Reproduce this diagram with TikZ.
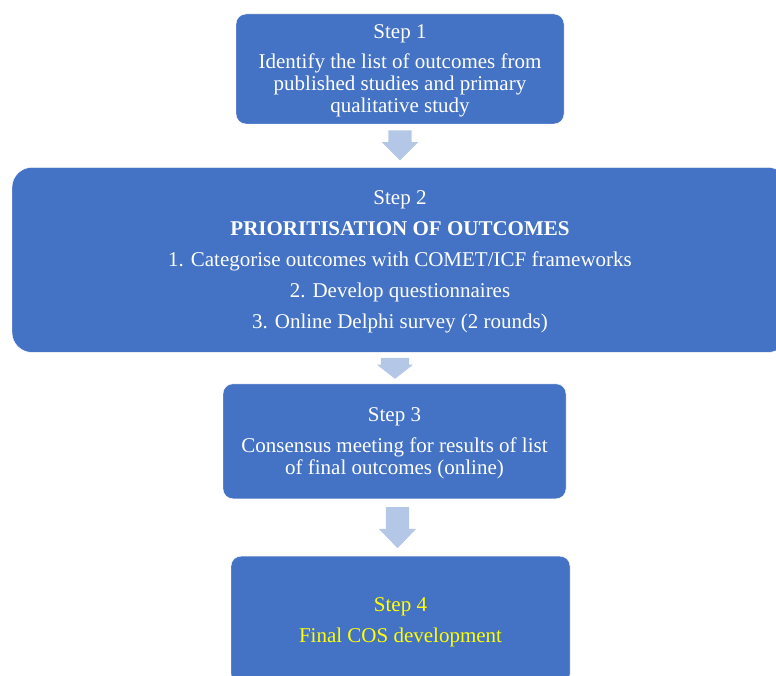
\documentclass[tikz,border=0pt]{standalone}
\usepackage{fontspec}
\setmainfont{Liberation Serif}
\usetikzlibrary{positioning,shapes.arrows}
\definecolor{stepblue}{HTML}{4472C4}
\definecolor{arrowblue}{HTML}{B4C7E7}
\definecolor{stepyellow}{HTML}{FFFF00}

\begin{document}
\begin{tikzpicture}[x=1pt, y=-1pt,
    stepbox/.style={draw=white, thin, fill=stepblue, rounded corners=10pt, align=center, text=white, font=\fontsize{21}{22}\selectfont, inner sep=0pt, text depth=0pt},
    downarrow/.style={single arrow, shape border rotate=270, fill=arrowblue, draw=none, inner xsep=11.5pt, inner ysep=1pt, single arrow head extend=6.5pt, single arrow head indent=0pt},
    node distance=43pt
  ]
    \useasboundingbox (0,0) rectangle (776,676);
    \clip (0,0) rectangle (776,676);

    \node[stepbox, minimum width=328pt, minimum height=110pt] (box1) at (400,69) {Step 1\\[8pt] Identify the list of outcomes from\\ published studies and primary\\ qualitative study};
    \node[stepbox, rounded corners=20pt, minimum width=776pt, minimum height=185pt, below=43pt of box1] (box2) {Step 2\\[9pt] \textbf{PRIORITISATION OF OUTCOMES}\\[9pt] 1. Categorise outcomes with COMET/ICF frameworks\\[9pt] 2. Develop questionnaires\\[9pt] 3. Online Delphi survey (2 rounds)};
    \node[stepbox, minimum width=343pt, minimum height=115pt, below=31pt of box2, xshift=-5.5pt] (box3) {Step 3\\[9pt] Consensus meeting for results of list\\ of final outcomes (online)};
    \node[stepbox, text=stepyellow, minimum width=339pt, minimum height=128pt, below=57pt of box3, xshift=6pt] (box4) {Step 4\\[9pt] Final COS development};

    \node[downarrow, minimum height=30pt, below=6pt of box1] (arrow1) {};
    \node[downarrow, minimum height=21pt, inner xsep=14pt, single arrow head extend=4pt, single arrow tip angle=104, below=5pt of box2, xshift=-5pt] (arrow2) {};
    \node[downarrow, minimum height=41pt, single arrow head extend=7pt, single arrow tip angle=88, below=8pt of box3, xshift=3pt] (arrow3) {};

  \end{tikzpicture}
\end{document}
